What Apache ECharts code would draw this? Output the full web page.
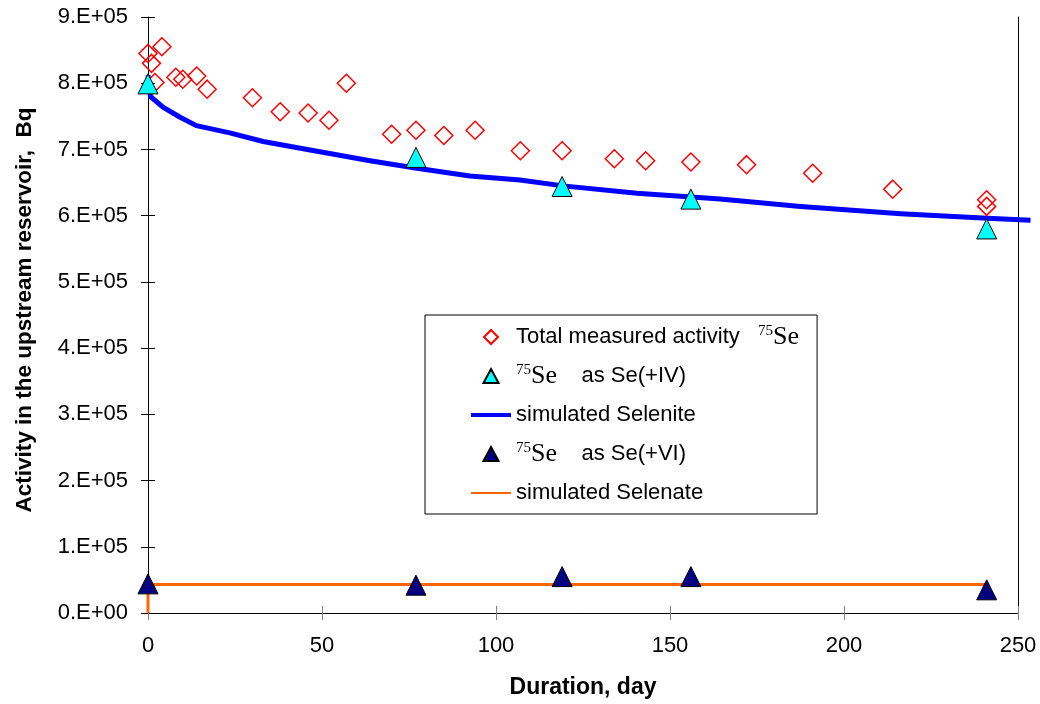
<!DOCTYPE html>
<html>
<head>
<meta charset="utf-8">
<script src="https://cdn.jsdelivr.net/npm/echarts@6/dist/echarts.min.js"></script>
<style>
  html, body { margin: 0; padding: 0; background: #fff; }
  #chart { width: 1040px; height: 704px; }
</style>
</head>
<body>
<div id="chart"></div>
<script>
// duration (day) / activity (Bq)
const totalDays = [0, 1, 2, 4, 8, 10, 14, 17, 30, 38, 46, 52, 57, 70, 77, 85, 94, 107, 119, 134, 143, 156, 172, 191, 214, 241, 241];
const totalActivity = [8.45e5, 8.30e5, 8.01e5, 8.55e5, 8.09e5, 8.06e5, 8.11e5, 7.91e5, 7.78e5, 7.57e5, 7.55e5, 7.44e5, 8.00e5, 7.23e5, 7.29e5, 7.21e5, 7.29e5, 6.98e5, 6.98e5, 6.86e5, 6.83e5, 6.81e5, 6.77e5, 6.64e5, 6.40e5, 6.24e5, 6.14e5];

const sampleDays = [0, 77, 119, 156, 241];
const selenite = [7.99e5, 6.88e5, 6.44e5, 6.25e5, 5.80e5];
const selenate = [0.44e5, 0.42e5, 0.55e5, 0.55e5, 0.35e5];

const simSeleniteDays = [0, 0.7, 4.3, 9.1, 13.9, 23.5, 33.1, 44.6, 63.8, 76.8, 92.5, 106.9, 119.3, 140.5, 164.4, 187.5, 216.3, 241.2, 253.6];
const simSelenite = [8.12e5, 7.80e5, 7.64e5, 7.49e5, 7.36e5, 7.25e5, 7.12e5, 7.01e5, 6.83e5, 6.72e5, 6.60e5, 6.54e5, 6.45e5, 6.34e5, 6.25e5, 6.14e5, 6.03e5, 5.96e5, 5.93e5];

const simSelenateDays = [0, 0, 241];
const simSelenate = [0, 0.43e5, 0.43e5];

const xTicks = [0, 50, 100, 150, 200, 250];
const yTickLabels = ["0.E+00", "1.E+05", "2.E+05", "3.E+05", "4.E+05", "5.E+05", "6.E+05", "7.E+05", "8.E+05", "9.E+05"];

const FONT = "'Liberation Sans', Arial, sans-serif";
const SERIF = "'Liberation Serif', 'Times New Roman', serif";

const DIAMOND_ICON = "path://M6,0 L12,6 L6,12 L0,6 Z";
const TRIANGLE_ICON = "path://M7,0 L14,13 L0,13 Z";
const THICK_LINE_ICON = "path://M0,0 L40,0 L40,4 L0,4 Z";

function pairs(xs, ys) {
    return xs.map((x, i) => [x, ys[i]]);
}

const legendText = {
    total: "{t|Total measured activity   }{sup|75}{se|Se}",
    se4: "{sup|75}{se|Se}{t|    as Se(+IV)}",
    selenite: "{t|simulated Selenite}",
    se6: "{sup|75}{se|Se}{t|    as Se(+VI)}",
    selenate: "{t|simulated Selenate}"
};

const chart = echarts.init(document.getElementById("chart"));

const xBase = {
    type: "value",
    min: 0,
    max: 250,
    interval: 50,
    splitLine: { show: false }
};

const yBase = {
    type: "value",
    min: 0,
    max: 9e5,
    interval: 1e5,
    splitLine: { show: false }
};

// the simulated curve runs a little past the plot edge, as in the original
function renderSelenite(params, api) {
    if (params.dataIndex !== 0) return null;
    const points = simSeleniteDays.map((day, i) => api.coord([day, simSelenite[i]]));
    return {
        type: "polyline",
        shape: { points },
        style: {
            stroke: "#0000ff",
            lineWidth: 5,
            fill: null,
            lineJoin: "round"
        }
    };
}

chart.setOption({
    animation: false,
    textStyle: { fontFamily: FONT },
    grid: {
        left: 148,
        right: 22,
        top: 17,
        bottom: 89.5
    },
    legend: {
        orient: "vertical",
        left: 425,
        top: 315,
        padding: [9, 18, 8, 45],
        itemGap: 13,
        itemWidth: 40,
        itemHeight: 14,
        symbolKeepAspect: true,
        borderColor: "#000",
        borderWidth: 1,
        backgroundColor: "#fff",
        selectedMode: false,
        data: [
            { name: "total", icon: DIAMOND_ICON },
            { name: "se4", icon: TRIANGLE_ICON },
            { name: "selenite", icon: THICK_LINE_ICON, itemStyle: { color: "#0000ff", borderWidth: 0 } },
            { name: "se6", icon: TRIANGLE_ICON },
            { name: "selenate", itemStyle: { opacity: 0 } }
        ],
        formatter: name => legendText[name],
        textStyle: {
            color: "#000",
            fontFamily: FONT,
            fontSize: 22,
            lineHeight: 26,
            rich: {
                t: { fontFamily: FONT, fontSize: 22, lineHeight: 26, color: "#000" },
                sup: { fontFamily: SERIF, fontSize: 15, lineHeight: 26, verticalAlign: "top", color: "#000" },
                se: { fontFamily: SERIF, fontSize: 26, lineHeight: 26, color: "#000" }
            }
        }
    },
    xAxis: [{
        ...xBase,
        name: "Duration, day",
        nameLocation: "middle",
        nameGap: 63,
        nameTextStyle: { fontFamily: FONT, fontSize: 23, fontWeight: "bold", color: "#000" },
        axisLine: { onZero: false, lineStyle: { color: "#000", width: 1 } },
        axisTick: { length: 7, lineStyle: { color: "#808080" } },
        axisLabel: {
            margin: 22,
            fontSize: 22,
            color: "#000",
            formatter: value => xTicks.includes(value) ? String(value) : ""
        }
    }, {
        ...xBase,
        position: "bottom",
        axisLine: { show: false },
        axisTick: { inside: true, length: 7, lineStyle: { color: "#808080" } },
        axisLabel: { show: false }
    }],
    yAxis: [{
        ...yBase,
        name: "Activity in the upstream reservoir,  Bq",
        nameLocation: "middle",
        nameGap: 112,
        nameTextStyle: { fontFamily: FONT, fontSize: 22.5, fontWeight: "bold", color: "#000", padding: [0, 0, 0, 10] },
        axisLine: { onZero: false, lineStyle: { color: "#000", width: 1 } },
        axisTick: { length: 7, lineStyle: { color: "#000" } },
        axisLabel: {
            margin: 20,
            fontSize: 22,
            color: "#000",
            formatter: value => yTickLabels[Math.round(value / 1e5)] ?? ""
        }
    }, {
        ...yBase,
        position: "left",
        axisLine: { show: false },
        axisTick: { inside: true, length: 7, lineStyle: { color: "#000" } },
        axisLabel: { show: false }
    }, {
        ...yBase,
        position: "right",
        axisLine: { show: true, onZero: false, lineStyle: { color: "#000", width: 1 } },
        axisTick: { show: false },
        axisLabel: { show: false }
    }],
    series: [{
        name: "total",
        type: "scatter",
        data: pairs(totalDays, totalActivity),
        symbol: "diamond",
        symbolSize: 18,
        z: 3,
        itemStyle: {
            color: "rgba(255,255,255,0)",
            borderColor: "#ff0000",
            borderWidth: 1.5,
            opacity: 1
        }
    }, {
        name: "se4",
        type: "scatter",
        data: pairs(sampleDays, selenite),
        symbol: "triangle",
        symbolSize: 20,
        z: 4,
        itemStyle: {
            color: "#00ffff",
            borderColor: "#000",
            borderWidth: 1,
            opacity: 1
        }
    }, {
        name: "selenite",
        type: "custom",
        data: pairs(simSeleniteDays, simSelenite),
        renderItem: renderSelenite,
        clip: false,
        z: 2,
        itemStyle: { color: "#0000ff" }
    }, {
        name: "se6",
        type: "scatter",
        data: pairs(sampleDays, selenate),
        symbol: "triangle",
        symbolSize: 20,
        z: 4,
        itemStyle: {
            color: "#000080",
            borderColor: "#000",
            borderWidth: 1,
            opacity: 1
        }
    }, {
        name: "selenate",
        type: "line",
        data: pairs(simSelenateDays, simSelenate),
        showSymbol: false,
        symbol: "none",
        z: 2,
        color: "#ff6600",
        lineStyle: { color: "#ff6600", width: 3 }
    }]
});
</script>
</body>
</html>
